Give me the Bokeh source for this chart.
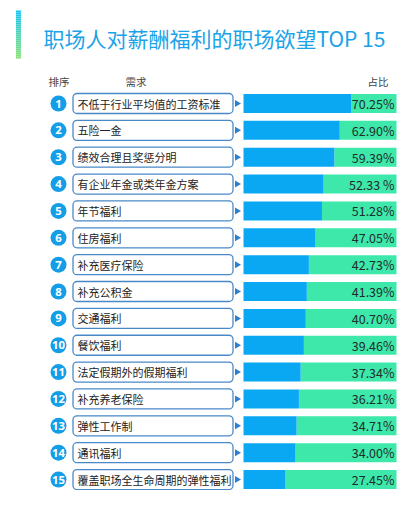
from bokeh.plotting import figure
from bokeh.models import Range1d, ColumnDataSource
from bokeh.core.properties import value
from bokeh.embed import file_html
from bokeh.resources import INLINE

ranks = [str(i) for i in range(1, 16)]
items = ["不低于行业平均值的工资标准", "五险一金", "绩效合理且奖惩分明", "有企业年金或类年金方案",
         "年节福利", "住房福利", "补充医疗保险", "补充公积金", "交通福利", "餐饮福利",
         "法定假期外的假期福利", "补充养老保险", "弹性工作制", "通讯福利", "覆盖职场全生命周期的弹性福利"]
shares = [70.25, 62.90, 59.39, 52.33, 51.28, 47.05, 42.73, 41.39, 40.70, 39.46,
          37.34, 36.21, 34.71, 34.00, 27.45]
share_labels = ["70.25%", "62.90%", "59.39%", "52.33 %", "51.28%", "47.05%", "42.73%", "41.39%",
                "40.70%", "39.46%", "37.34%", "36.21%", "34.71%", "34.00%", "27.45%"]
title_text = "职场人对薪酬福利的职场欲望TOP 15"
headers = ["排序", "需求", "占比"]

FONT = "Noto Sans CJK SC"
BLUE = "#0aa8f2"
GREEN = "#3ee8aa"

# pixel mapping helpers (layout only)
PX = 1.53      # pixels per percent unit
X0 = 243       # page x of 0%
ROW = 26.86    # pixels per row
Y0 = 103       # page y of first row
OFF = 0        # canvas offset on page


def ux(px):
    return (px - X0) / PX


def uy(py):
    return (py - Y0) / ROW


p = figure(width=400, height=490, output_backend="svg", toolbar_location=None,
           x_range=Range1d(ux(OFF), ux(OFF + 400)), y_range=Range1d(uy(OFF + 490), uy(OFF)),
           min_border=0, outline_line_color=None)
p.axis.visible = False
p.grid.visible = False
p.background_fill_color = "white"
p.border_fill_color = "white"

rows = list(range(len(items)))
src = ColumnDataSource(dict(y=rows, v=shares, full=[100] * len(rows), rank=ranks,
                            item=items, lab=share_labels))

bh = 19 / ROW
p.hbar(y="y", left="v", right="full", height=bh, source=src, fill_color=GREEN, line_color=None)
p.hbar(y="y", left=0, right="v", height=bh, source=src, fill_color=BLUE, line_color=None)

# label boxes
p.hbar(y="y", left=ux(72.5), right=ux(232.5), height=20 / ROW, source=src,
       fill_color="white", line_color="#4a89c8", line_width=1.3, border_radius=4)
# pointers
p.scatter(x=ux(236.5), y="y", source=src, marker="triangle", size=7, angle=-1.5708,
          fill_color="#2a7fd0", line_color=None)
# rank circles
p.scatter(x=ux(58), y="y", source=src, marker="circle", size=16,
          fill_color="#159ee8", line_color=None)
p.text(x=ux(58), y="y", text="rank", source=src, text_align="center", text_baseline="middle",
       text_font=value("Open Sans"), text_font_size="8.5pt", text_font_style="bold",
       text_color="white")
p.text(x=ux(77), y="y", text="item", source=src, text_align="left", text_baseline="middle",
       text_font=value(FONT), text_font_size="11px", text_color="#222222")
p.text(x=ux(394), y="y", text="lab", source=src, text_align="right", text_baseline="middle",
       text_font=value(FONT), text_font_size="12.5px", text_color="#1f2d2a")

# headers
p.text(x=[ux(48), ux(125), ux(388)], y=[uy(80.5)] * 3, text=headers,
       text_align=["left", "left", "right"], text_baseline="middle",
       text_font=value(FONT), text_font_size="10.5px", text_color="#444444")

# title
p.text(x=[ux(43)], y=[uy(37)], text=[title_text], text_align="left", text_baseline="middle",
       text_font=value(FONT), text_font_size="21px", text_color="#1aa3e8")

# gradient accent bar
top_c = (0x19, 0xc5, 0xf2)
bot_c = (0x86, 0xe0, 0x78)
n = 24
y_top, y_bot = 10, 58
bt, bb, cols = [], [], []
for i in range(n):
    t = i / (n - 1)
    c = tuple(int(round(top_c[k] + (bot_c[k] - top_c[k]) * t)) for k in range(3))
    cols.append("#%02x%02x%02x" % c)
    bt.append(uy(y_top + (y_bot - y_top) * i / n))
    bb.append(uy(y_top + (y_bot - y_top) * (i + 1) / n))
p.quad(left=ux(15.5), right=ux(20.5), top=bt, bottom=bb, fill_color=cols, line_color=None)

open("out.html", "w").write(file_html(p, INLINE))
